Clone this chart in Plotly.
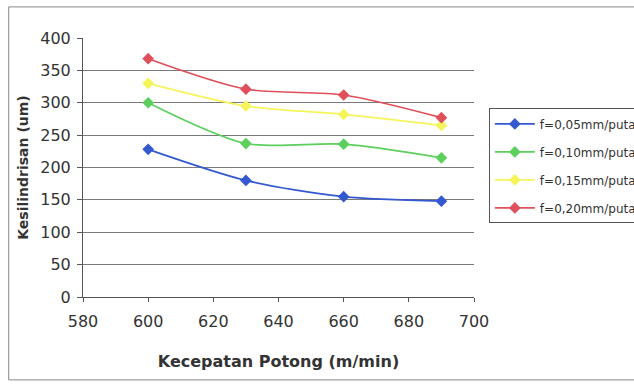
import plotly.graph_objects as go

# Cutting speed (m/min) and cylindricity (um) for each feed rate
kecepatan = [600, 630, 660, 690]
f_005 = [228, 180, 155, 148]
f_010 = [300, 237, 236, 215]
f_015 = [330, 295, 282, 265]
f_020 = [368, 321, 312, 277]

series = [
    ("f=0,05mm/putaran", f_005, "#3458d0"),
    ("f=0,10mm/putaran", f_010, "#5ccf5c"),
    ("f=0,15mm/putaran", f_015, "#f5f55a"),
    ("f=0,20mm/putaran", f_020, "#e0505a"),
]

FONT = "DejaVu Sans, Liberation Sans, Arial"

fig = go.Figure()
for i, (name, vals, color) in enumerate(series):
    fig.add_trace(go.Scatter(
        x=kecepatan, y=vals, name=name, mode="lines+markers",
        legendgroup=f"g{i}",
        line=dict(color=color, width=1.7, shape="spline", smoothing=0.8),
        marker=dict(symbol="diamond", size=9, color=color),
    ))

fig.update_layout(
    width=634, height=385,
    margin=dict(l=83, r=160, t=38, b=88, autoexpand=False),
    paper_bgcolor="white", plot_bgcolor="white",
    font=dict(family=FONT, color="#333333"),
    showlegend=True,
    legend=dict(
        x=1.038, y=0.728, xanchor="left", yanchor="top",
        bordercolor="#555555", borderwidth=1, bgcolor="white",
        font=dict(size=12, color="#333333"),
        itemwidth=40, tracegroupgap=9,
    ),
    shapes=[dict(type="rect", xref="paper", yref="paper",
                 x0=-0.19, x1=1.42, y0=-0.32, y1=1.12,
                 line=dict(color="#888888", width=1))],
)

fig.update_xaxes(
    range=[580, 700], dtick=20, tick0=580,
    showline=True, linecolor="#555555", linewidth=1,
    ticks="outside", ticklen=4, tickcolor="#555555",
    ticklabelstandoff=6,
    showgrid=False, zeroline=False,
    tickfont=dict(size=16, color="#333333"),
    title=dict(text="<b>Kecepatan Potong (m/min)</b>", font=dict(size=16, color="#333333"), standoff=25),
)
fig.update_yaxes(
    range=[0, 400], dtick=50,
    showline=True, linecolor="#555555", linewidth=1,
    ticks="outside", ticklen=5, tickcolor="#555555",
    ticklabelstandoff=3,
    showgrid=True, gridcolor="#7a7a7a", gridwidth=1, zeroline=False,
    tickfont=dict(size=16, color="#333333"),
    title=dict(text="<b>Kesilindrisan (um)</b>", font=dict(size=14, color="#333333"), standoff=8),
)

fig.write_html("out.html")
